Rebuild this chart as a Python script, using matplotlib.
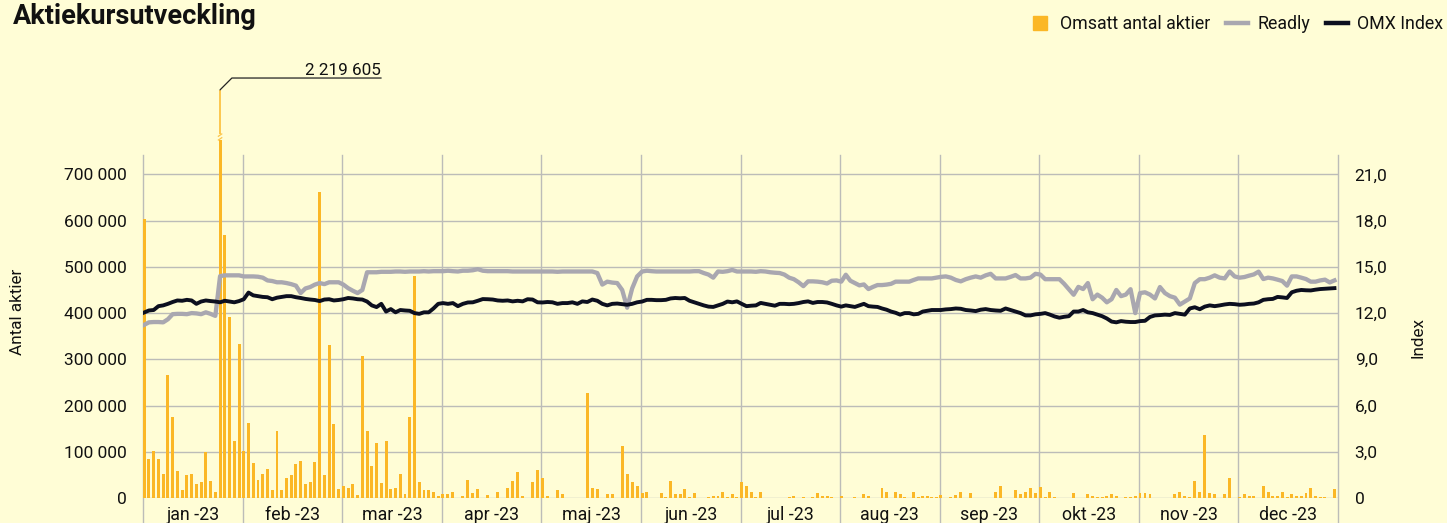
import numpy as np
import matplotlib
matplotlib.use("Agg")
import matplotlib.pyplot as plt
from matplotlib.lines import Line2D

plt.rcParams['font.family'] = ['Roboto', 'DejaVu Sans']

# Month labels on the x axis
months = ["jan -23", "feb -23", "mar -23", "apr -23", "maj -23", "jun -23",
          "jul -23", "aug -23", "sep -23", "okt -23", "nov -23", "dec -23"]

# Traded shares per day, thousands (one list per month)
vol_k = [
    [604, 84, 101, 84, 53, 266, 175, 58, 17, 49, 53, 31, 34, 100, 36, 14, 2219.605, 570, 392, 123, 333],
    [101, 162, 75, 38, 53, 62, 17, 145, 17, 43, 49, 73, 80, 30, 34, 77, 661, 49, 331, 160, 19],
    [27, 22, 31, 6, 307, 144, 69, 118, 32, 123, 19, 21, 53, 8, 175, 480, 34, 17, 17, 12, 4],
    [8, 8, 12, 1, 4, 38, 10, 19, 1, 6, 1, 12, 1, 21, 36, 56, 4, 1, 34, 60],
    [43, 4, 1, 17, 8, 1, 1, 1, 1, 227, 21, 19, 1, 8, 8, 1, 112, 53, 34, 27],
    [11, 14, 1, 1, 10, 3, 36, 9, 9, 19, 3, 10, 1, 1, 3, 5, 5, 12, 3, 8, 3],
    [34, 27, 12, 3, 14, 1, 1, 1, 1, 1, 3, 5, 1, 3, 1, 3, 10, 5, 5, 3, 1],
    [5, 1, 1, 3, 1, 8, 5, 1, 1, 21, 14, 1, 12, 8, 3, 1, 14, 3, 5, 5, 3, 2],
    [7, 1, 3, 7, 12, 1, 10, 1, 1, 1, 1, 14, 27, 1, 1, 17, 8, 14, 21, 10],
    [23, 3, 14, 3, 1, 1, 1, 10, 1, 1, 8, 5, 3, 3, 5, 8, 5, 1, 3, 3, 5],
    [10, 10, 8, 1, 1, 1, 1, 8, 14, 5, 3, 36, 12, 136, 10, 8, 1, 8, 43, 1],
    [3, 8, 5, 5, 1, 27, 14, 5, 5, 12, 3, 8, 5, 5, 10, 21, 5, 3, 3, 1, 19],
]

# Readly share price (right axis)
readly = [
    [11.24, 11.4, 11.42, 11.42, 11.4, 11.6, 11.93, 11.95, 11.95, 11.93, 12.0, 11.98, 11.93, 12.05, 11.95, 11.82, 14.4, 14.45, 14.45, 14.45, 14.45],
    [14.38, 14.38, 14.38, 14.36, 14.3, 14.12, 14.08, 14.0, 14.0, 13.95, 13.88, 13.78, 13.3, 13.6, 13.69, 13.85, 13.95, 13.88, 14.0, 14.0, 14.0],
    [13.85, 13.62, 13.45, 13.3, 13.5, 14.65, 14.65, 14.65, 14.68, 14.68, 14.68, 14.7, 14.7, 14.68, 14.7, 14.7, 14.7, 14.72, 14.7, 14.72, 14.72],
    [14.72, 14.75, 14.72, 14.7, 14.75, 14.75, 14.78, 14.85, 14.75, 14.72, 14.72, 14.72, 14.72, 14.72, 14.7, 14.7, 14.7, 14.7, 14.7, 14.7],
    [14.7, 14.7, 14.7, 14.68, 14.7, 14.7, 14.7, 14.7, 14.7, 14.7, 14.7, 14.6, 13.85, 14.04, 13.98, 13.95, 13.5, 12.35, 13.6, 14.38],
    [14.7, 14.75, 14.72, 14.7, 14.7, 14.7, 14.7, 14.7, 14.7, 14.7, 14.7, 14.72, 14.72, 14.6, 14.5, 14.3, 14.7, 14.68, 14.72, 14.8, 14.7],
    [14.7, 14.7, 14.7, 14.68, 14.72, 14.7, 14.65, 14.62, 14.6, 14.5, 14.3, 14.2, 14.0, 13.75, 14.06, 14.06, 14.04, 14.0, 13.92, 14.1, 14.12],
    [14.04, 14.49, 14.1, 13.95, 13.8, 13.86, 13.56, 13.7, 13.82, 13.82, 13.85, 13.9, 14.04, 14.04, 14.04, 14.04, 14.15, 14.25, 14.25, 14.25, 14.25, 14.3],
    [14.35, 14.38, 14.3, 14.15, 14.06, 14.2, 14.3, 14.38, 14.3, 14.45, 14.55, 14.25, 14.25, 14.25, 14.35, 14.47, 14.25, 14.25, 14.3, 14.55],
    [14.5, 14.2, 14.2, 14.2, 14.2, 13.9, 13.55, 13.19, 13.7, 13.56, 13.95, 12.9, 13.2, 13.0, 12.7, 12.9, 13.5, 13.1, 13.2, 13.55, 12.0],
    [13.3, 13.35, 13.2, 12.95, 13.69, 13.3, 13.1, 13.0, 12.55, 12.75, 12.95, 13.95, 14.2, 14.2, 14.3, 14.45, 14.3, 14.25, 14.7, 14.38],
    [14.3, 14.34, 14.43, 14.51, 14.69, 14.21, 14.3, 14.25, 14.17, 14.08, 13.78, 14.38, 14.38, 14.3, 14.21, 14.04, 14.04, 14.12, 14.17, 13.99, 14.12],
]

# OMX index, rescaled (right axis)
omx = [
    [12.04, 12.17, 12.2, 12.45, 12.5, 12.6, 12.72, 12.82, 12.8, 12.86, 12.82, 12.6, 12.75, 12.82, 12.78, 12.75, 12.7, 12.8, 12.75, 12.7, 12.78],
    [12.9, 13.33, 13.15, 13.1, 13.05, 13.03, 12.9, 13.0, 13.05, 13.1, 13.1, 13.03, 12.98, 12.92, 12.88, 12.85, 12.78, 12.88, 12.9, 12.82, 12.85],
    [12.9, 12.98, 12.95, 12.9, 12.88, 12.75, 12.5, 12.39, 12.6, 12.1, 12.26, 12.05, 12.2, 12.17, 12.15, 12.0, 11.95, 12.05, 12.05, 12.3, 12.6],
    [12.65, 12.6, 12.65, 12.45, 12.6, 12.69, 12.7, 12.8, 12.91, 12.9, 12.88, 12.82, 12.8, 12.82, 12.76, 12.8, 12.76, 12.9, 12.88, 12.7],
    [12.69, 12.72, 12.7, 12.6, 12.65, 12.65, 12.7, 12.6, 12.76, 12.72, 12.88, 12.8, 12.6, 12.5, 12.6, 12.62, 12.58, 12.54, 12.6, 12.7],
    [12.75, 12.86, 12.86, 12.84, 12.84, 12.86, 12.95, 12.98, 12.96, 12.98, 12.8, 12.7, 12.6, 12.5, 12.42, 12.4, 12.5, 12.6, 12.75, 12.7, 12.76],
    [12.6, 12.45, 12.48, 12.5, 12.66, 12.6, 12.54, 12.48, 12.6, 12.6, 12.58, 12.6, 12.65, 12.72, 12.76, 12.66, 12.72, 12.72, 12.69, 12.6, 12.5],
    [12.42, 12.5, 12.45, 12.4, 12.5, 12.6, 12.45, 12.42, 12.4, 12.3, 12.22, 12.1, 12.02, 11.9, 12.0, 12.0, 11.92, 11.95, 12.1, 12.15, 12.2, 12.2],
    [12.2, 12.24, 12.26, 12.3, 12.28, 12.2, 12.17, 12.13, 12.22, 12.26, 12.2, 12.17, 12.15, 12.3, 12.2, 12.1, 12.0, 11.85, 11.85, 11.92],
    [11.95, 12.0, 11.9, 11.78, 11.7, 11.76, 11.8, 12.1, 12.1, 12.2, 12.05, 12.0, 11.9, 11.8, 11.65, 11.45, 11.4, 11.48, 11.44, 11.42, 11.42],
    [11.48, 11.5, 11.75, 11.85, 11.87, 11.9, 11.88, 12.0, 11.95, 11.9, 12.3, 12.38, 12.25, 12.42, 12.5, 12.45, 12.5, 12.56, 12.6, 12.58],
    [12.54, 12.56, 12.6, 12.62, 12.7, 12.86, 12.9, 12.92, 13.05, 13.02, 12.98, 13.35, 13.45, 13.5, 13.48, 13.47, 13.52, 13.56, 13.58, 13.6, 13.62],
]

BG = '#fffdd6'
ORANGE = '#fbb726'
GREY = '#a9a7b0'
BLACK = '#0c0f1f'
GRID = '#bcbcb8'
TXT = '#111111'

# x position: month index + fraction of the month's trading days (small nudge off the gridline)
x = np.concatenate([m + np.arange(len(v)) / len(v) for m, v in enumerate(vol_k)]) + 0.012
vol = np.concatenate(vol_k) * 1000
rd = np.concatenate(readly)
ox = np.concatenate(omx)

fig = plt.figure(figsize=(14.47, 5.23), dpi=100, facecolor=BG)
ax = fig.add_axes([143 / 1447, 25 / 523, 1195 / 1447, 343 / 523])
ax.set_facecolor(BG)
ymax = 742000
ax.set_ylim(0, ymax)
ax.set_xlim(0, 12)

# bars, the outlier is cut and drawn above the axes
width = 0.62 / 21
big = vol.argmax()
ax.bar(np.delete(x, big), np.delete(vol, big), width=width, color=ORANGE, zorder=2,
       clip_on=False)
lo_top = ymax * 1.045
hi_bot = ymax * 1.06
hi_top = ymax * 1.19
ax.bar(x[big], lo_top, width=width, color=ORANGE, zorder=2, clip_on=False)
ax.bar(x[big], hi_top - hi_bot, bottom=hi_bot, width=width * 0.45, color=ORANGE,
       alpha=0.75, zorder=2, clip_on=False)
for yb in (lo_top + 1500, hi_bot - 1500):
    ax.plot([x[big] - 0.017, x[big] + 0.017], [yb - 2500, yb + 2500], color=ORANGE,
            lw=0.9, alpha=0.8, clip_on=False, zorder=3)
ax.annotate(f"{vol[big]:,.0f}".replace(",", " "), xy=(x[big], hi_top),
            xytext=(116, 8.5), textcoords='offset points', ha='right', va='bottom',
            fontsize=12.3, color=TXT, annotation_clip=False,
            arrowprops=dict(arrowstyle='-', color='#222222', lw=0.9,
                            connectionstyle='angle,angleA=0,angleB=45,rad=0',
                            relpos=(1, 0), shrinkA=0, shrinkB=0, patchA=None))

# grid
yt = np.arange(0, 700001, 100000)
ax.set_yticks(yt)
ax.set_yticklabels(["0" if v == 0 else f"{v:,.0f}".replace(",", " ") for v in yt])
ax.grid(axis='y', color=GRID, lw=1, zorder=0)
for m in range(13):
    ax.axvline(m, ymin=-0.1, ymax=1, color=GRID, lw=1, clip_on=False, zorder=0)
for s in ax.spines.values():
    s.set_visible(False)
ax.set_xticks(np.arange(12) + 0.5)
ax.set_xticklabels(months)
ax.tick_params(axis='x', length=0, pad=6, labelsize=12.8, colors=TXT)
ax.tick_params(axis='y', length=0, pad=12, labelsize=12.5, colors=TXT)

ax2 = ax.twinx()
ax2.set_ylim(0, ymax / 700000 * 21)
ax2.plot(x, rd, color=GREY, lw=3.1, zorder=3)
ax2.plot(x, ox, color=BLACK, lw=2.8, zorder=4)
rt = np.arange(0, 22, 3)
ax2.set_yticks(rt)
ax2.set_yticklabels(["0" if v == 0 else f"{v:.1f}".replace(".", ",") for v in rt])
ax2.tick_params(axis='y', length=0, pad=12, labelsize=12.5, colors=TXT)
for s in ax2.spines.values():
    s.set_visible(False)

fig.text(18 / 1447, 1 - 312 / 523, "Antal aktier", rotation=90, ha='center', va='center',
         fontsize=12.3, color=TXT)
fig.text(1418 / 1447, 1 - 338 / 523, "Index", rotation=90, ha='center', va='center',
         fontsize=12.3, color=TXT)
fig.text(13 / 1447, 1 - 3 / 523, "Aktiekursutveckling", fontsize=19.5, weight='bold',
         va='top', ha='left', color=TXT)

handles = [Line2D([], [], marker='s', ls='', markersize=10, color=ORANGE),
           Line2D([], [], color=GREY, lw=3.2),
           Line2D([], [], color=BLACK, lw=3.2)]
fig.legend(handles, ["Omsatt antal aktier", "Readly", "OMX Index"], loc='upper right',
           bbox_to_anchor=(1459 / 1447, 1 + 1 / 523), ncol=3, frameon=False,
           fontsize=12.8, handlelength=1.25, handletextpad=0.5, columnspacing=0.9,
           labelcolor=TXT)

fig.savefig("out.png", dpi=100, facecolor=BG)
